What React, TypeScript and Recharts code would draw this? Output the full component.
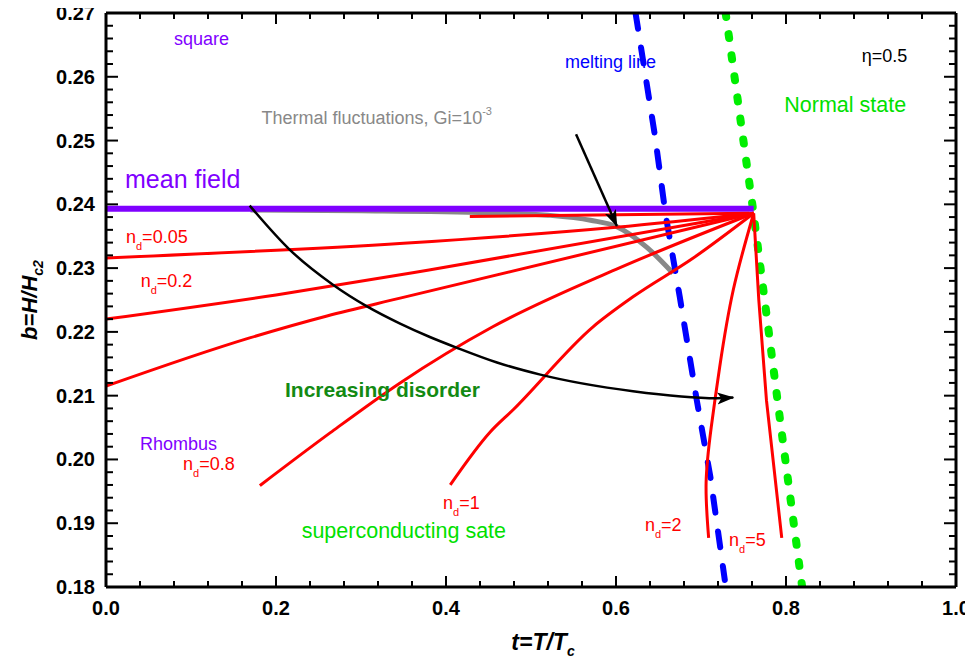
import React from 'react';
import { ComposedChart, Line, XAxis, YAxis, ReferenceDot } from 'recharts';

const FONT = '"Liberation Sans", Arial, Helvetica, sans-serif';

const xTicks = [0, 0.04, 0.08, 0.12, 0.16, 0.2, 0.24, 0.28, 0.32, 0.36, 0.4, 0.44, 0.48, 0.52, 0.56, 0.6, 0.64, 0.68, 0.72, 0.76, 0.8, 0.84, 0.88, 0.92, 0.96, 1.0];
const yTicks = [0.18, 0.182, 0.184, 0.186, 0.188, 0.19, 0.192, 0.194, 0.196, 0.198, 0.2, 0.202, 0.204, 0.206, 0.208, 0.21, 0.212, 0.214, 0.216, 0.218, 0.22, 0.222, 0.224, 0.226, 0.228, 0.23, 0.232, 0.234, 0.236, 0.238, 0.24, 0.242, 0.244, 0.246, 0.248, 0.25, 0.252, 0.254, 0.256, 0.258, 0.26, 0.262, 0.264, 0.266, 0.268, 0.27];

const meanField = [{ t: 0, b: 0.2393 }, { t: 0.762, b: 0.2393 }];
const thermal = [{ t: 0.17, b: 0.2391 }, { t: 0.3, b: 0.239 }, { t: 0.45, b: 0.2387 }, { t: 0.52, b: 0.2383 }, { t: 0.57, b: 0.2375 }, { t: 0.601, b: 0.2365 }, { t: 0.636, b: 0.2333 }, { t: 0.667, b: 0.2292 }];
const melting = [{ t: 0.623, b: 0.27 }, { t: 0.646, b: 0.2506 }, { t: 0.658, b: 0.2387 }, { t: 0.675, b: 0.2255 }, { t: 0.695, b: 0.2093 }, { t: 0.711, b: 0.1973 }, { t: 0.728, b: 0.1811 }];
const normal = [{ t: 0.729, b: 0.27 }, { t: 0.744, b: 0.2556 }, { t: 0.761, b: 0.2394 }, { t: 0.793, b: 0.2062 }, { t: 0.819, b: 0.18 }];

const nd005short = [{ t: 0.428, b: 0.2381 }, { t: 0.757, b: 0.2386 }];
const nd005 = [{ t: 0, b: 0.2316 }, { t: 0.35, b: 0.2339 }, { t: 0.6, b: 0.2364 }, { t: 0.762, b: 0.2386 }];
const nd02 = [{ t: 0, b: 0.222 }, { t: 0.2, b: 0.2258 }, { t: 0.38, b: 0.2297 }, { t: 0.762, b: 0.2386 }];
const nd05 = [{ t: 0, b: 0.2115 }, { t: 0.17, b: 0.2191 }, { t: 0.26, b: 0.2225 }, { t: 0.346, b: 0.2253 }, { t: 0.762, b: 0.2386 }];
const nd08 = [{ t: 0.181, b: 0.1959 }, { t: 0.264, b: 0.2042 }, { t: 0.346, b: 0.212 }, { t: 0.455, b: 0.2208 }, { t: 0.6, b: 0.2298 }, { t: 0.762, b: 0.2386 }];
const nd1 = [{ t: 0.405, b: 0.196 }, { t: 0.452, b: 0.2043 }, { t: 0.479, b: 0.2078 }, { t: 0.573, b: 0.2208 }, { t: 0.62, b: 0.2255 }, { t: 0.69, b: 0.2315 }, { t: 0.762, b: 0.2386 }];
const nd2 = [{ t: 0.762, b: 0.2386 }, { t: 0.738, b: 0.2266 }, { t: 0.722, b: 0.2145 }, { t: 0.712, b: 0.205 }, { t: 0.706, b: 0.1963 }, { t: 0.709, b: 0.1877 }];
const nd5 = [{ t: 0.762, b: 0.2386 }, { t: 0.768, b: 0.225 }, { t: 0.777, b: 0.2093 }, { t: 0.795, b: 0.1877 }];

const arrowThermal = [{ t: 0.553, b: 0.251 }, { t: 0.601, b: 0.2366 }];
const arrowDisorder = [{ t: 0.169, b: 0.2398 }, { t: 0.216, b: 0.2329 }, { t: 0.267, b: 0.2274 }, { t: 0.307, b: 0.224 }, { t: 0.346, b: 0.2213 }, { t: 0.381, b: 0.2192 }, { t: 0.413, b: 0.2175 }, { t: 0.46, b: 0.2152 }, { t: 0.511, b: 0.2133 }, { t: 0.62, b: 0.2107 }, { t: 0.719, b: 0.2096 }, { t: 0.738, b: 0.2097 }];

const isMajor = (v: number, step: number) => Math.abs(v / step - Math.round(v / step)) < 1e-6;

const BottomTick = (p: any) => {
  const v = p.payload.value;
  const major = isMajor(v, 0.2);
  return (
    <g>
      <line x1={p.x} y1={p.y} x2={p.x} y2={p.y - (major ? 11 : 6)} stroke="#000" strokeWidth={2} />
      {major && (
        <text x={p.x} y={p.y + 28} textAnchor="middle" fontSize={20} fontWeight="bold" fontFamily={FONT} fill="#000">
          {v.toFixed(1)}
        </text>
      )}
    </g>
  );
};
const TopTick = (p: any) => {
  const major = isMajor(p.payload.value, 0.2);
  return <line x1={p.x} y1={p.y} x2={p.x} y2={p.y + (major ? 11 : 6)} stroke="#000" strokeWidth={2} />;
};
const LeftTick = (p: any) => {
  const v = p.payload.value;
  const major = isMajor(v, 0.01);
  return (
    <g>
      <line x1={p.x} y1={p.y} x2={p.x + (major ? 12 : 7)} y2={p.y} stroke="#000" strokeWidth={2} />
      {major && (
        <text x={p.x - 11} y={p.y + 7} textAnchor="end" fontSize={20} fontWeight="bold" fontFamily={FONT} fill="#000">
          {v.toFixed(2)}
        </text>
      )}
    </g>
  );
};
const RightTick = (p: any) => {
  const major = isMajor(p.payload.value, 0.01);
  return <line x1={p.x} y1={p.y} x2={p.x - (major ? 12 : 7)} y2={p.y} stroke="#000" strokeWidth={2} />;
};

const note = (key: string, t: number, b: number, render: (x: number, y: number) => React.ReactNode) => (
  <ReferenceDot
    key={key}
    x={t}
    y={b}
    r={0}
    fill="none"
    stroke="none"
    ifOverflow="visible"
    label={{
      content: (p: any) => {
        const vb = p.viewBox || p;
        return render(vb.x, vb.y);
      },
    }}
  />
);

const ndText = (x: number, y: number, val: string, size = 18) => (
  <text x={x} y={y} fontSize={size} fontFamily={FONT} fill="#ff0000">
    n<tspan fontSize={11} dy={7}>d</tspan>
    <tspan dy={-7}>={val}</tspan>
  </text>
);

const plain = (x: number, y: number, s: string, color: string, size: number, weight = 'normal') => (
  <text x={x} y={y} fontSize={size} fontFamily={FONT} fill={color} fontWeight={weight}>
    {s}
  </text>
);

const yLabel = (p: any) => {
  const vb = p.viewBox;
  const cx = vb.x + 21;
  const cy = vb.y + vb.height / 2;
  return (
    <text transform={`translate(${cx},${cy}) rotate(-90)`} textAnchor="middle" fontSize={22} fontWeight="bold" fontStyle="italic" fontFamily={FONT} fill="#000">
      b=H/H<tspan fontSize={14} dy={6}>c2</tspan>
    </text>
  );
};
const xLabel = (p: any) => {
  const vb = p.viewBox;
  const cx = vb.x + vb.width / 2 + 12;
  const cy = vb.y + 63;
  return (
    <text x={cx} y={cy} textAnchor="middle" fontSize={23} fontWeight="bold" fontStyle="italic" fontFamily={FONT} fill="#000">
      t=T/T<tspan fontSize={14} dy={6}>c</tspan>
    </text>
  );
};

export default function App() {
  return (
    <div style={{ margin: '-8px 0 0 -8px', width: 973, height: 658 }}>
      <ComposedChart width={973} height={658} margin={{ top: 12, right: 16, bottom: 11, left: 16 }}>
        <defs>
          <marker id="arrowHead" markerUnits="userSpaceOnUse" markerWidth={18} markerHeight={14} refX={16} refY={7} orient="auto">
            <path d="M0,1 L17,7 L0,13 L4,7 z" fill="#000" />
          </marker>
        </defs>
        <XAxis
          xAxisId={0}
          type="number"
          dataKey="t"
          domain={[0, 1]}
          ticks={xTicks}
          interval={0}
          allowDataOverflow
          height={60}
          tickSize={0}
          tickMargin={0}
          tickLine={false}
          axisLine={{ stroke: '#000', strokeWidth: 3 }}
          tick={BottomTick}
          label={{ content: xLabel }}
        />
        <XAxis
          xAxisId="top"
          orientation="top"
          type="number"
          dataKey="t"
          domain={[0, 1]}
          ticks={xTicks}
          interval={0}
          allowDataOverflow
          height={1}
          tickSize={0}
          tickMargin={0}
          tickLine={false}
          axisLine={{ stroke: '#000', strokeWidth: 3 }}
          tick={TopTick}
        />
        <YAxis
          yAxisId={0}
          type="number"
          domain={[0.18, 0.27]}
          ticks={yTicks}
          interval={0}
          allowDataOverflow
          width={90}
          tickSize={0}
          tickMargin={0}
          tickLine={false}
          axisLine={{ stroke: '#000', strokeWidth: 3 }}
          tick={LeftTick}
          label={{ content: yLabel }}
        />
        <YAxis
          yAxisId="right"
          orientation="right"
          type="number"
          domain={[0.18, 0.27]}
          ticks={yTicks}
          interval={0}
          allowDataOverflow
          width={1}
          tickSize={0}
          tickMargin={0}
          tickLine={false}
          axisLine={{ stroke: '#000', strokeWidth: 3 }}
          tick={RightTick}
        />

        <Line data={thermal} dataKey="b" type="monotone" stroke="#888888" strokeWidth={5} dot={false} activeDot={false} isAnimationActive={false} />
        <Line data={melting} dataKey="b" type="linear" stroke="#0000ff" strokeWidth={6} strokeDasharray="16 19" strokeLinecap="round" dot={false} activeDot={false} isAnimationActive={false} />
        <Line data={normal} dataKey="b" type="linear" stroke="#00ee00" strokeWidth={8} strokeDasharray="4 17.3" strokeLinecap="round" dot={false} activeDot={false} isAnimationActive={false} />
        <Line data={meanField} dataKey="b" type="linear" stroke="#7f00ff" strokeWidth={6} dot={false} activeDot={false} isAnimationActive={false} />

        <Line data={nd005short} dataKey="b" type="linear" stroke="#ff0000" strokeWidth={3} dot={false} activeDot={false} isAnimationActive={false} />
        <Line data={nd005} dataKey="b" type="monotone" stroke="#ff0000" strokeWidth={3} dot={false} activeDot={false} isAnimationActive={false} />
        <Line data={nd02} dataKey="b" type="monotone" stroke="#ff0000" strokeWidth={3} dot={false} activeDot={false} isAnimationActive={false} />
        <Line data={nd05} dataKey="b" type="monotone" stroke="#ff0000" strokeWidth={3} dot={false} activeDot={false} isAnimationActive={false} />
        <Line data={nd08} dataKey="b" type="monotone" stroke="#ff0000" strokeWidth={3} dot={false} activeDot={false} isAnimationActive={false} />
        <Line data={nd1} dataKey="b" type="monotone" stroke="#ff0000" strokeWidth={3} dot={false} activeDot={false} isAnimationActive={false} />
        <Line data={nd2} dataKey="b" type="natural" stroke="#ff0000" strokeWidth={3} dot={false} activeDot={false} isAnimationActive={false} />
        <Line data={nd5} dataKey="b" type="linear" stroke="#ff0000" strokeWidth={3} dot={false} activeDot={false} isAnimationActive={false} />

        <Line data={arrowThermal} dataKey="b" type="linear" stroke="#000" strokeWidth={2.5} markerEnd="url(#arrowHead)" dot={false} activeDot={false} isAnimationActive={false} />
        <Line data={arrowDisorder} dataKey="b" type="monotone" stroke="#000" strokeWidth={2.5} markerEnd="url(#arrowHead)" dot={false} activeDot={false} isAnimationActive={false} />

        {note('square', 0.08, 0.265, (x, y) => plain(x, y, 'square', '#7f00ff', 18))}
        {note('mean', 0.0224, 0.2426, (x, y) => plain(x, y, 'mean field', '#7f00ff', 25))}
        {note('melt', 0.54, 0.2614, (x, y) => plain(x, y, 'melting line', '#0000ff', 18))}
        {note('eta', 0.889, 0.2623, (x, y) => plain(x, y, 'η=0.5', '#000', 18))}
        {note('normal', 0.798, 0.2545, (x, y) => plain(x, y, 'Normal state', '#00e000', 21.5))}
        {note('thermal', 0.183, 0.2526, (x, y) => (
          <text x={x} y={y} fontSize={18} fontFamily={FONT} fill="#888888">
            Thermal fluctuations, Gi=10<tspan fontSize={11} dy={-9}>-3</tspan>
          </text>
        ))}
        {note('nd005', 0.0235, 0.2339, (x, y) => ndText(x, y, '0.05'))}
        {note('nd02', 0.0408, 0.227, (x, y) => ndText(x, y, '0.2'))}
        {note('incr', 0.2106, 0.2098, (x, y) => plain(x, y, 'Increasing disorder', '#138a13', 21, 'bold'))}
        {note('rhomb', 0.04, 0.2015, (x, y) => plain(x, y, 'Rhombus', '#7f00ff', 18))}
        {note('nd08', 0.0906, 0.1983, (x, y) => ndText(x, y, '0.8'))}
        {note('nd1', 0.3965, 0.1922, (x, y) => ndText(x, y, '1'))}
        {note('sc', 0.2302, 0.1877, (x, y) => plain(x, y, 'superconducting sate', '#00e000', 21.5))}
        {note('nd2', 0.634, 0.1888, (x, y) => ndText(x, y, '2'))}
        {note('nd5', 0.733, 0.1864, (x, y) => ndText(x, y, '5'))}
      </ComposedChart>
    </div>
  );
}
